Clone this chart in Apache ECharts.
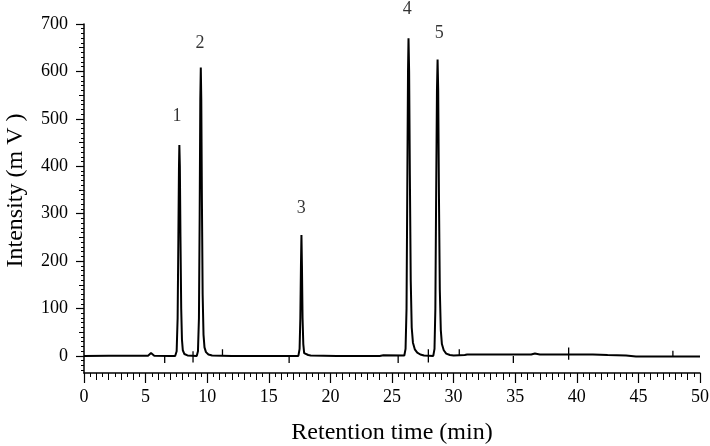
<!DOCTYPE html>
<html><head><meta charset="utf-8">
<script src="https://cdn.jsdelivr.net/npm/echarts@6/dist/echarts.min.js"></script>
<style>html,body{margin:0;padding:0;background:#fff}#c{width:710px;height:446px}</style>
</head><body><div id="c"></div>
<script>
// Chromatogram trace (retention time in min, intensity in mV)
const times = [
  0, 2, 4, 5.2, 5.35, 5.44, 5.55, 5.7, 7.0, 7.40, 7.52, 7.60, 7.66, 7.71, 7.74, 7.78, 7.83, 7.89, 7.95, 8.02, 8.15, 8.4,
  9.15, 9.25, 9.33, 9.39, 9.44, 9.48, 9.52, 9.57, 9.63, 9.70, 9.78, 9.9, 10.1, 10.4, 12, 15, 17.40,
  17.50, 17.56, 17.61, 17.65, 17.69, 17.74, 17.80, 17.87, 18.0, 18.2, 18.3, 18.4, 20.5, 20.6, 20.7, 24.0, 24.3, 26.00,
  26.10, 26.18, 26.24, 26.30, 26.34, 26.39, 26.45, 26.52, 26.60, 26.70, 26.85, 27.05, 27.3, 27.6, 28.0, 28.35,
  28.45, 28.52, 28.58, 28.65, 28.70, 28.75, 28.81, 28.88, 28.96, 29.05, 29.2, 29.4, 29.7, 30.0, 30.9, 31.0, 31.1,
  33, 36.3, 36.6, 37, 39, 41.3, 42.5, 44.0, 44.8, 47, 50
];
const signal = [
  0, 0.5, 0.5, 0.5, 3, 6, 3, 0.5, 0, 0, 10, 80, 250, 400, 445, 400, 250, 100, 35, 12, 4, 1,
  0, 10, 80, 300, 540, 608, 540, 330, 130, 45, 18, 8, 3, 1, 0, 0, 0,
  15, 80, 190, 255, 190, 80, 25, 6, 2, 2, 6, 1, 0, 3, 0, 0, 1.5, 1,
  15, 100, 350, 600, 670, 600, 380, 160, 60, 28, 14, 7, 3, 1, 0.5, 0,
  15, 100, 330, 560, 625, 560, 340, 140, 55, 25, 12, 5, 2, 1, 2, 5, 3,
  3, 3, 5, 3, 3, 3, 2, 1, -1, -1, -1, -1
];

// Integration event marks: time, low end, high end
const markTimes = [6.55, 8.85, 11.24, 16.65, 25.5, 27.95, 30.46, 34.85, 39.34, 47.8];
const markLow   = [-15, -14, 0, -15, -15, -14, 0, -15, -8, 0];
const markHigh  = [0, 10, 14, 0, 0, 14, 14, 0, 18, 11];

// Peak labels
const peakNames = ['1', '2', '3', '4', '5'];
const peakLabelX = [7.55, 9.42, 17.63, 26.24, 28.84];
const peakLabelY = [506, 660, 312, 732, 681];

// Axis ticks
const yMajorTicks = [0, 100, 200, 300, 400, 500, 600, 700];
const yMidTicks = [50, 150, 250, 350, 450, 550, 650];
const yMinorTicks = [-30, -20, -10, 0, 10, 20, 30, 40, 60, 70, 80, 90, 110, 120, 130, 140, 160, 170, 180, 190,
  210, 220, 230, 240, 260, 270, 280, 290, 310, 320, 330, 340, 360, 370, 380, 390, 410, 420, 430, 440,
  460, 470, 480, 490, 510, 520, 530, 540, 560, 570, 580, 590, 610, 620, 630, 640, 660, 670, 680, 690];

const traceData = times.map((t, i) => [t, signal[i]]);
const markData = [];
markTimes.forEach((t, i) => { markData.push([t, markLow[i]], [t, markHigh[i]], [null, null]); });
const labelData = peakNames.map((n, i) => ({ name: n, value: [peakLabelX[i], peakLabelY[i]] }));

const FONT = 'Liberation Serif';
const INK = '#000';
const chart = echarts.init(document.getElementById('c'), null, { renderer: 'canvas' });
const hiddenY = (vals, len) => ({
  type: 'value', min: -36, max: 700, position: 'left',
  axisLine: { show: false }, axisLabel: { show: false }, splitLine: { show: false },
  axisTick: { show: true, length: len, customValues: vals, lineStyle: { color: INK, width: 1 } }
});
chart.setOption({
  animation: false,
  grid: { left: 84, right: 10, top: 24, bottom: 73, containLabel: false, outerBoundsMode: 'none' },
  xAxis: [
    {
      type: 'value', min: 0, max: 50, interval: 5, position: 'bottom',
      name: 'Retention time (min)', nameLocation: 'middle', nameGap: 48,
      nameTextStyle: { fontFamily: FONT, fontSize: 24, color: INK },
      axisLine: { show: true, onZero: false, lineStyle: { color: INK, width: 1.5 } },
      axisTick: { show: true, length: 10, lineStyle: { color: INK, width: 1.2 } },
      minorTick: { show: true, splitNumber: 10, length: 4, lineStyle: { color: INK, width: 1 } },
      axisLabel: { fontFamily: FONT, fontSize: 18, color: INK, margin: 15 },
      splitLine: { show: false }, minorSplitLine: { show: false }
    },
    {
      type: 'value', min: 0, max: 50, interval: 1, position: 'bottom',
      axisLine: { show: false, onZero: false }, axisLabel: { show: false }, splitLine: { show: false },
      axisTick: { show: true, length: 7, lineStyle: { color: INK, width: 1 } }
    }
  ],
  yAxis: [
    {
      type: 'value', min: -36, max: 700, position: 'left',
      name: 'Intensity (m V )', nameLocation: 'middle', nameGap: 56,
      nameTextStyle: { fontFamily: FONT, fontSize: 24, color: INK, padding: [0, 0, 0, 16] },
      axisLine: { show: true, onZero: false, lineStyle: { color: INK, width: 1.5 } },
      axisTick: { show: true, length: 8, customValues: yMajorTicks, lineStyle: { color: INK, width: 1.2 } },
      axisLabel: { fontFamily: FONT, fontSize: 18, color: INK, margin: 16, customValues: yMajorTicks },
      splitLine: { show: false }
    },
    hiddenY(yMidTicks, 5),
    hiddenY(yMinorTicks, 3)
  ],
  series: [
    {
      type: 'line', data: traceData, xAxisIndex: 0, yAxisIndex: 0,
      symbol: 'none', lineStyle: { color: INK, width: 2 }, silent: true
    },
    {
      type: 'line', data: markData, xAxisIndex: 0, yAxisIndex: 0, connectNulls: false,
      symbol: 'none', lineStyle: { color: INK, width: 1.3 }, silent: true
    },
    {
      type: 'scatter', data: labelData, symbolSize: 0, clip: false, silent: true,
      label: { show: true, position: 'inside', formatter: p => p.name,
        fontFamily: FONT, fontSize: 18, color: INK, textBorderWidth: 0 }
    }
  ]
});
</script>
</body></html>
